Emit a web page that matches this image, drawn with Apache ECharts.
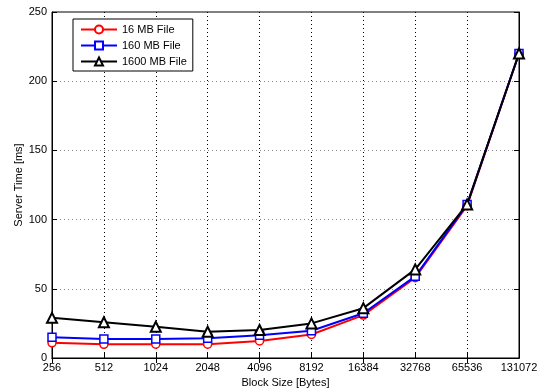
<!DOCTYPE html>
<html><head><meta charset="utf-8">
<script src="https://cdn.jsdelivr.net/npm/echarts@6/dist/echarts.min.js"></script>
<style>html,body{margin:0;padding:0;background:#fff}#c{width:544px;height:392px}</style>
</head><body><div id="c"></div>
<script>
var categories = ['256','512','1024','2048','4096','8192','16384','32768','65536','131072'];
var file16 = [11, 9.9, 10, 10, 12.3, 17, 31, 58, 110, 220];
var file160 = [15, 13.7, 13.7, 14.2, 16.4, 19.7, 32.3, 59, 111, 220];
var file1600 = [29, 25.8, 22.6, 19, 20.2, 25, 36, 64, 111, 220];
var yTicks = [0, 50, 100, 150, 200, 250];

var font = 'Liberation Sans, Arial, sans-serif';
var chart = echarts.init(document.getElementById('c'));
chart.setOption({
  animation:false,
  grid:{left:52, right:25, top:12, bottom:34, show:true, borderColor:'#000', borderWidth:1, containLabel:false, outerBoundsMode:'none'},
  legend:{
    orient:'vertical', left:73, top:19, width:118,
    backgroundColor:'#fff', borderColor:'#000', borderWidth:1,
    padding:[5,6,4,7], itemGap:5, itemWidth:36, itemHeight:10,
    textStyle:{fontFamily:font, fontSize:11, color:'#000'},
    data:['16 MB File','160 MB File','1600 MB File']
  },
  xAxis:[{
    type:'category', data:categories, boundaryGap:false,
    name:'Block Size [Bytes]', nameLocation:'middle', nameGap:19, nameMoveOverlap:false,
    nameTextStyle:{fontFamily:font, fontSize:11, color:'#000'},
    axisLine:{lineStyle:{color:'#000'}},
    axisTick:{inside:true, length:5, lineStyle:{color:'#000'}},
    axisLabel:{fontFamily:font, fontSize:11, color:'#000', margin:4, interval:0},
    splitLine:{show:true, lineStyle:{color:'#000', type:[1,3], width:1}}
  },{
    type:'category', data:categories, boundaryGap:false, position:'top',
    axisLine:{lineStyle:{color:'#000'}},
    axisTick:{inside:true, length:5, lineStyle:{color:'#000'}},
    axisLabel:{show:false}, splitLine:{show:false}
  }],
  yAxis:[{
    type:'value', min:0, max:250, interval:50,
    name:'Server Time [ms]', nameLocation:'middle', nameGap:28, nameRotate:90, nameMoveOverlap:false,
    nameTextStyle:{fontFamily:font, fontSize:11, color:'#000'},
    axisLine:{show:true, lineStyle:{color:'#000'}},
    axisTick:{show:true, inside:true, length:5, lineStyle:{color:'#000'}},
    axisLabel:{fontFamily:font, fontSize:11, color:'#000', margin:5},
    splitLine:{show:true, lineStyle:{color:'#888', type:[1,3], width:1}}
  },{
    type:'value', min:0, max:250, interval:50, position:'right',
    axisLine:{show:true, lineStyle:{color:'#000'}},
    axisTick:{show:true, inside:true, length:5, lineStyle:{color:'#000'}},
    axisLabel:{show:false}, splitLine:{show:false}
  }],
  series:[
    {name:'16 MB File', type:'line', data:file16, symbol:'circle', symbolSize:8,
     lineStyle:{color:'#ff0000', width:2}, itemStyle:{color:'#fff', borderColor:'#ff0000', borderWidth:1.5}, color:'#ff0000', z:3},
    {name:'160 MB File', type:'line', data:file160, symbol:'rect', symbolSize:8,
     lineStyle:{color:'#0000ff', width:2}, itemStyle:{color:'#fff', borderColor:'#0000ff', borderWidth:1.5}, color:'#0000ff', z:4},
    {name:'1600 MB File', type:'line', data:file1600, symbol:'triangle', symbolSize:10,
     lineStyle:{color:'#000', width:2}, itemStyle:{color:'#fff', borderColor:'#000', borderWidth:2}, color:'#000', z:5}
  ]
});
</script></body></html>
